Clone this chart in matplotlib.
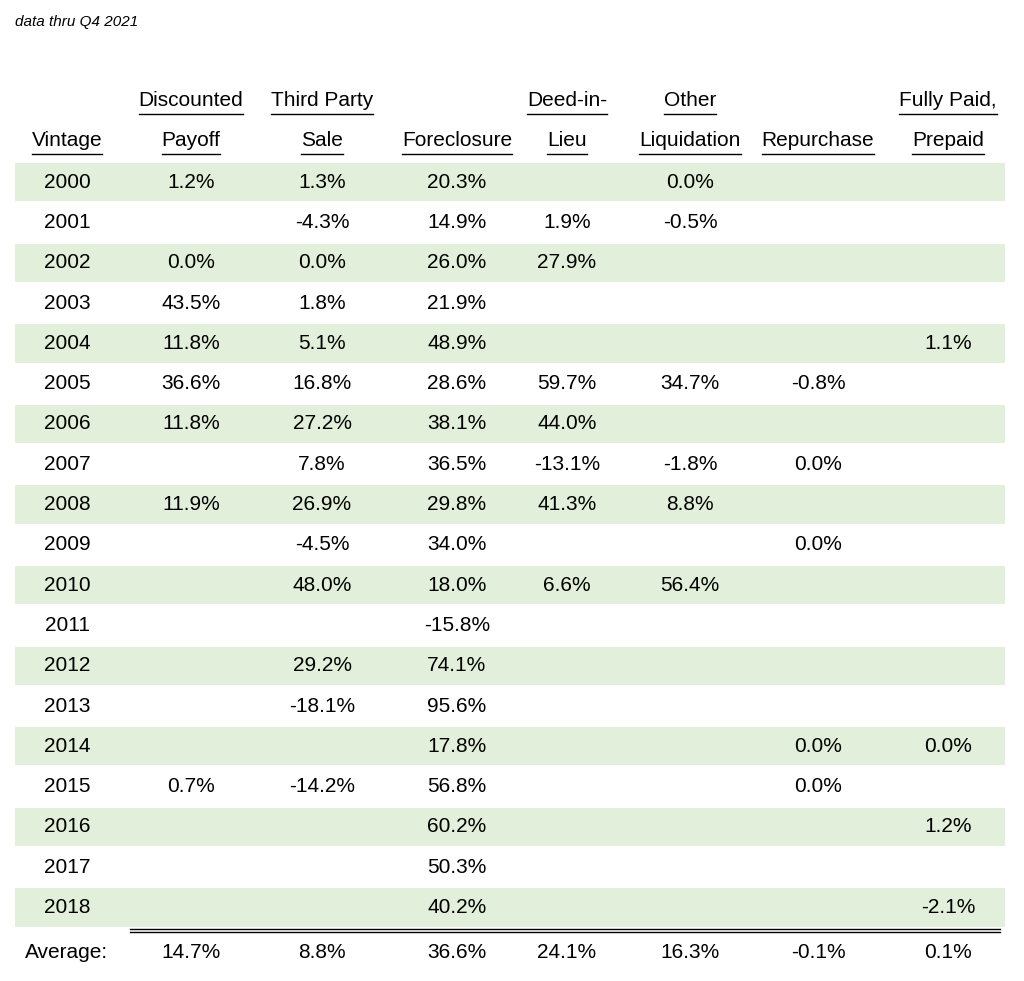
import matplotlib
matplotlib.use('Agg')
import matplotlib.pyplot as plt
from matplotlib.patches import Rectangle

years = list(range(2000, 2019))
head1 = ["", "Discounted", "Third Party", "", "Deed-in-", "Other", "", "Fully Paid,"]
head2 = ["Vintage", "Payoff", "Sale", "Foreclosure", "Lieu", "Liquidation", "Repurchase", "Prepaid"]
disc = ["1.2%", "", "0.0%", "43.5%", "11.8%", "36.6%", "11.8%", "", "11.9%", "", "", "", "", "", "", "0.7%", "", "", ""]
third = ["1.3%", "-4.3%", "0.0%", "1.8%", "5.1%", "16.8%", "27.2%", "7.8%", "26.9%", "-4.5%", "48.0%", "", "29.2%", "-18.1%", "", "-14.2%", "", "", ""]
fore = ["20.3%", "14.9%", "26.0%", "21.9%", "48.9%", "28.6%", "38.1%", "36.5%", "29.8%", "34.0%", "18.0%", "-15.8%", "74.1%", "95.6%", "17.8%", "56.8%", "60.2%", "50.3%", "40.2%"]
deed = ["", "1.9%", "27.9%", "", "", "59.7%", "44.0%", "-13.1%", "41.3%", "", "6.6%", "", "", "", "", "", "", "", ""]
other = ["0.0%", "-0.5%", "", "", "", "34.7%", "", "-1.8%", "8.8%", "", "56.4%", "", "", "", "", "", "", "", ""]
repur = ["", "", "", "", "", "-0.8%", "", "0.0%", "", "0.0%", "", "", "", "", "0.0%", "0.0%", "", "", ""]
paid = ["", "", "", "", "1.1%", "", "", "", "", "", "", "", "", "", "0.0%", "", "1.2%", "", "-2.1%"]
average = ["Average:", "14.7%", "8.8%", "36.6%", "24.1%", "16.3%", "-0.1%", "0.1%"]

cols = [[str(y) for y in years], disc, third, fore, deed, other, repur, paid]
xs = [67, 191, 322, 457, 567, 690, 818, 948]

plt.rcParams['font.family'] = ['Liberation Sans Narrow', 'Liberation Sans', 'DejaVu Sans']
fig = plt.figure(figsize=(10.24, 9.81), dpi=100)
ax = fig.add_axes([0, 0, 1, 1])
ax.set_xlim(0, 1024)
ax.set_ylim(981, 0)
ax.axis('off')
fs = 15

ax.text(15, 22, "data thru Q4 2021", fontsize=11, style='italic', va='center')

top, rh = 162, 40.3
for i in range(len(years)):
    y0 = top + i * rh
    if i % 2 == 0:
        ax.add_patch(Rectangle((15, y0 + 1), 990, rh - 2, color='#E2EFDA', lw=0))
    for x, c in zip(xs, cols):
        ax.text(x, y0 + rh / 2, c[i], fontsize=fs, ha='center', va='center')

hdr = []
for x, a, b in zip(xs, head1, head2):
    if a:
        hdr.append((ax.text(x, 100, a, fontsize=fs, ha='center', va='center'), 114))
    hdr.append((ax.text(x, 140, b, fontsize=fs, ha='center', va='center'), 154))

fig.canvas.draw()
r = fig.canvas.get_renderer()
for t, yl in hdr:
    bb = t.get_window_extent(r)
    ax.plot([bb.x0, bb.x1], [yl, yl], color='black', lw=1)

yb = top + len(years) * rh
ax.plot([130, 1000], [yb + 1, yb + 1], color='black', lw=1)
ax.plot([130, 1000], [yb + 4, yb + 4], color='black', lw=1)
for x, v in zip(xs, average):
    ax.text(x, 952, v, fontsize=fs, ha='center', va='center')

fig.savefig('out.png', dpi=100, facecolor='white')
